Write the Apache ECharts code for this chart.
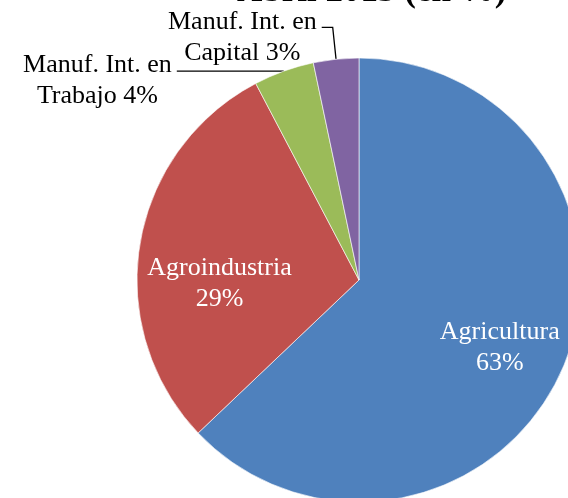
<!DOCTYPE html>
<html>
<head>
<meta charset="utf-8">
<script src="https://cdn.jsdelivr.net/npm/echarts@6/dist/echarts.min.js"></script>
<style>
  html, body { margin: 0; padding: 0; background: #fff; }
  #chart { width: 568px; height: 498px; }
</style>
</head>
<body>
<div id="chart"></div>
<script>
// datos
var categorias = ['Agricultura', 'Agroindustria', 'Manuf. Int. en Trabajo', 'Manuf. Int. en Capital'];
var valores = [62.9, 29.4, 4.4, 3.3];
var colores = ['#4F81BD', '#C0504D', '#9BBB59', '#8064A2'];

var serif = '"Liberation Serif", "Times New Roman", serif';

function etiqueta(params) {
  var pct = Math.round(params.value) + '%';
  var nombre = params.name;
  if (nombre.indexOf('Manuf. Int. en ') === 0) {
    var resto = nombre.replace('Manuf. Int. en ', '');
    return '{c|Manuf. Int. en}\n{c|' + resto + ' ' + pct + '}';
  }
  return '{c|' + nombre + '}\n{c|' + pct + '}';
}

var datos = categorias.map(function (n, i) {
  var item = { name: n, value: valores[i], itemStyle: { color: colores[i] } };
  if (i < 2) {
    item.label = { position: 'inside', color: '#fff' };
  } else {
    item.label = { position: 'outside', color: '#000', padding: [20, 0, 0, 0] };
    item.labelLine = {
      show: true,
      length: i === 2 ? 0 : 32,
      length2: i === 2 ? 107 : 11,
      lineStyle: { color: '#000', width: 1.3 }
    };
  }
  return item;
});

// desplazamiento de las etiquetas internas
var despl = [[36, 23], [-27, 22], [0, 0], [0, 0]];

var chart = echarts.init(document.getElementById('chart'));
chart.setOption({
  animation: false,
  title: {
    text: 'Abril 2013 (en %)',
    left: 232,
    top: -31,
    textStyle: { fontFamily: serif, fontSize: 35, fontWeight: 'bold', color: '#000', lineHeight: 35 }
  },
  series: [{
    type: 'pie',
    center: [359, 280],
    radius: 222,
    startAngle: 90,
    clockwise: true,
    avoidLabelOverlap: false,
    data: datos,
    itemStyle: { borderColor: 'rgba(255,255,255,0.6)', borderWidth: 1 },
    label: {
      formatter: etiqueta,
      fontFamily: serif,
      fontSize: 26,
      lineHeight: 31,
      distanceToLabelLine: 5,
      rich: {
        c: { align: 'center', fontFamily: serif, fontSize: 26, lineHeight: 31 }
      }
    },
    labelLayout: function (p) {
      return { dx: despl[p.dataIndex][0], dy: despl[p.dataIndex][1] };
    },
    emphasis: { disabled: true }
  }]
});
</script>
</body>
</html>
